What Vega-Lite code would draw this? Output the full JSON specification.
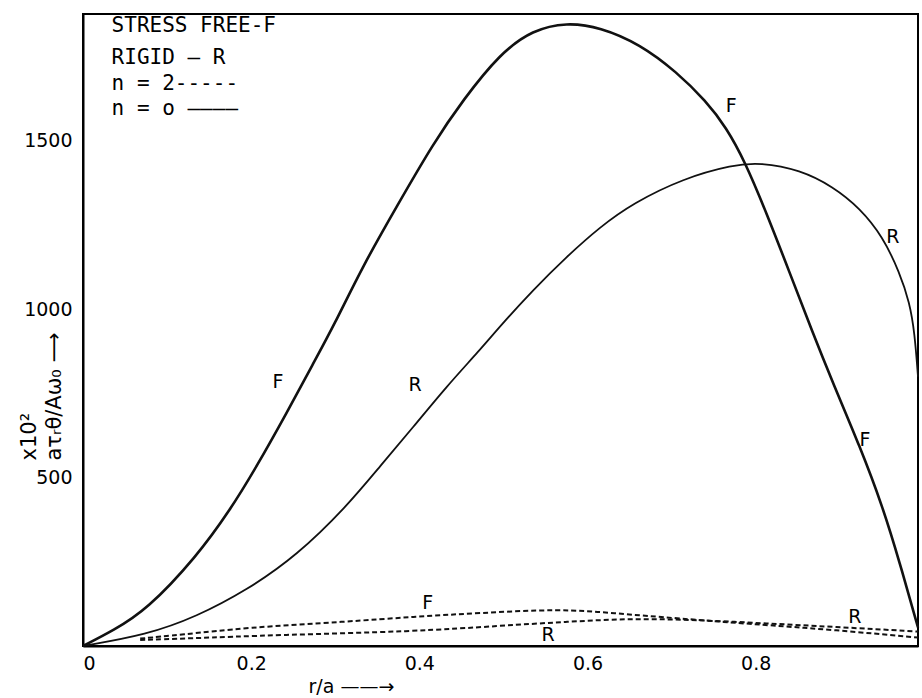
{
  "$schema": "https://vega.github.io/schema/vega-lite/v6.json",
  "autosize": {"type": "none"},
  "width": 835,
  "height": 632,
  "padding": {"left": 83, "top": 14, "right": 4, "bottom": 52},
  "background": "white",
  "config": {
    "view": {"stroke": "black", "strokeWidth": 2},
    "font": "DejaVu Sans",
    "axis": {
      "domainColor": "black", "domainWidth": 2, "tickColor": "black", "tickWidth": 1.5,
      "labelColor": "black", "titleColor": "black", "labelFont": "DejaVu Sans", "titleFont": "DejaVu Sans",
      "labelFontSize": 19, "titleFontSize": 19, "titleFontWeight": "normal", "grid": false
    }
  },
  "datasets": {
    "curves": [
      {"s": "F0", "r": 0, "v": 0}, {"s": "F0", "r": 0.036, "v": 46}, {"s": "F0", "r": 0.0757, "v": 107},
      {"s": "F0", "r": 0.135, "v": 265}, {"s": "F0", "r": 0.175, "v": 404}, {"s": "F0", "r": 0.2065, "v": 533},
      {"s": "F0", "r": 0.242, "v": 691}, {"s": "F0", "r": 0.274, "v": 840}, {"s": "F0", "r": 0.298, "v": 950},
      {"s": "F0", "r": 0.333, "v": 1130}, {"s": "F0", "r": 0.373, "v": 1305}, {"s": "F0", "r": 0.4166, "v": 1493},
      {"s": "F0", "r": 0.452, "v": 1622}, {"s": "F0", "r": 0.496, "v": 1760}, {"s": "F0", "r": 0.535, "v": 1830},
      {"s": "F0", "r": 0.575, "v": 1852}, {"s": "F0", "r": 0.615, "v": 1838}, {"s": "F0", "r": 0.662, "v": 1788},
      {"s": "F0", "r": 0.706, "v": 1705}, {"s": "F0", "r": 0.741, "v": 1618}, {"s": "F0", "r": 0.765, "v": 1540},
      {"s": "F0", "r": 0.787, "v": 1440}, {"s": "F0", "r": 0.813, "v": 1285}, {"s": "F0", "r": 0.841, "v": 1105},
      {"s": "F0", "r": 0.867, "v": 935}, {"s": "F0", "r": 0.892, "v": 780}, {"s": "F0", "r": 0.924, "v": 592},
      {"s": "F0", "r": 0.951, "v": 414}, {"s": "F0", "r": 0.971, "v": 250}, {"s": "F0", "r": 0.993, "v": 55},

      {"s": "R0", "r": 0, "v": 0}, {"s": "R0", "r": 0.0757, "v": 33}, {"s": "R0", "r": 0.135, "v": 87},
      {"s": "R0", "r": 0.195, "v": 166}, {"s": "R0", "r": 0.254, "v": 268}, {"s": "R0", "r": 0.3135, "v": 414},
      {"s": "R0", "r": 0.353, "v": 533}, {"s": "R0", "r": 0.393, "v": 651}, {"s": "R0", "r": 0.432, "v": 770},
      {"s": "R0", "r": 0.472, "v": 879}, {"s": "R0", "r": 0.496, "v": 950}, {"s": "R0", "r": 0.535, "v": 1057},
      {"s": "R0", "r": 0.575, "v": 1156}, {"s": "R0", "r": 0.615, "v": 1245}, {"s": "R0", "r": 0.654, "v": 1315},
      {"s": "R0", "r": 0.714, "v": 1389}, {"s": "R0", "r": 0.773, "v": 1429}, {"s": "R0", "r": 0.805, "v": 1436},
      {"s": "R0", "r": 0.853, "v": 1414}, {"s": "R0", "r": 0.892, "v": 1364}, {"s": "R0", "r": 0.924, "v": 1300},
      {"s": "R0", "r": 0.951, "v": 1216}, {"s": "R0", "r": 0.971, "v": 1110}, {"s": "R0", "r": 0.983, "v": 1020},
      {"s": "R0", "r": 0.989, "v": 930}, {"s": "R0", "r": 0.993, "v": 800},

      {"s": "F2", "r": 0.068, "v": 22}, {"s": "F2", "r": 0.115, "v": 33}, {"s": "F2", "r": 0.195, "v": 55},
      {"s": "F2", "r": 0.3135, "v": 72}, {"s": "F2", "r": 0.393, "v": 87}, {"s": "F2", "r": 0.472, "v": 98},
      {"s": "F2", "r": 0.567, "v": 110}, {"s": "F2", "r": 0.63, "v": 98}, {"s": "F2", "r": 0.706, "v": 82},
      {"s": "F2", "r": 0.813, "v": 62}, {"s": "F2", "r": 0.892, "v": 48}, {"s": "F2", "r": 0.993, "v": 25},

      {"s": "R2", "r": 0.068, "v": 18}, {"s": "R2", "r": 0.12, "v": 22}, {"s": "R2", "r": 0.234, "v": 33},
      {"s": "R2", "r": 0.393, "v": 43}, {"s": "R2", "r": 0.496, "v": 60}, {"s": "R2", "r": 0.575, "v": 72},
      {"s": "R2", "r": 0.654, "v": 82}, {"s": "R2", "r": 0.733, "v": 77}, {"s": "R2", "r": 0.813, "v": 67},
      {"s": "R2", "r": 0.892, "v": 57}, {"s": "R2", "r": 0.993, "v": 43}
    ],
    "labels": [
      {"t": "F", "r": 0.232, "v": 785}, {"t": "R", "r": 0.395, "v": 775}, {"t": "F", "r": 0.41, "v": 127},
      {"t": "F", "r": 0.771, "v": 1604}, {"t": "R", "r": 0.963, "v": 1216}, {"t": "F", "r": 0.93, "v": 612},
      {"t": "R", "r": 0.918, "v": 87}, {"t": "R", "r": 0.553, "v": 33}
    ],
    "legend": [
      {"t": "STRESS FREE-F", "r": 0.034, "v": 1841},
      {"t": "RIGID – R", "r": 0.034, "v": 1745},
      {"t": "n = 2-----", "r": 0.034, "v": 1669},
      {"t": "n = o ————", "r": 0.034, "v": 1594}
    ]
  },
  "encoding": {
    "x": {"field": "r", "type": "quantitative", "scale": {"domain": [0, 0.993], "nice": false, "zero": false},
      "axis": {"values": [0, 0.2, 0.4, 0.6, 0.8], "labelExpr": "datum.value == 0 ? '0' : format(datum.value, '.1f')",
        "tickSize": 0, "labelPadding": 8, "title": "r/a ——→", "titleX": 225, "titleAlign": "left", "titleBaseline": "middle", "titleY": 40, "titleFontSize": 19}},
    "y": {"field": "v", "type": "quantitative", "scale": {"domain": [0, 1877], "nice": false},
      "axis": {"values": [500, 1000, 1500], "format": "d", "tickSize": 0, "labelPadding": 11, "title": ["x10²", "aτᵣθ/Aω₀ ⟶"],
        "titleAlign": "left", "titleY": 446, "titleX": -44, "titleLineHeight": 25, "titleFontSize": 21}}
  },
  "layer": [
    {"data": {"name": "curves"}, "transform": [{"filter": "datum.s == 'F0'"}],
     "mark": {"type": "line", "color": "#111", "strokeWidth": 2.6, "interpolate": "basis"}},
    {"data": {"name": "curves"}, "transform": [{"filter": "datum.s == 'R0'"}],
     "mark": {"type": "line", "color": "#111", "strokeWidth": 1.8, "interpolate": "basis"}},
    {"data": {"name": "curves"}, "transform": [{"filter": "datum.s == 'F2' || datum.s == 'R2'"}],
     "mark": {"type": "line", "color": "#111", "strokeWidth": 2, "strokeDash": [5, 3], "interpolate": "basis"},
     "encoding": {"detail": {"field": "s"}}},
    {"data": {"name": "labels"}, "mark": {"type": "text", "fontSize": 19, "color": "black", "align": "center", "baseline": "middle"},
     "encoding": {"text": {"field": "t"}}},
    {"data": {"name": "legend"}, "mark": {"type": "text", "font": "DejaVu Sans Mono", "fontSize": 21, "color": "black", "align": "left", "baseline": "middle"},
     "encoding": {"text": {"field": "t"}}}
  ]
}
